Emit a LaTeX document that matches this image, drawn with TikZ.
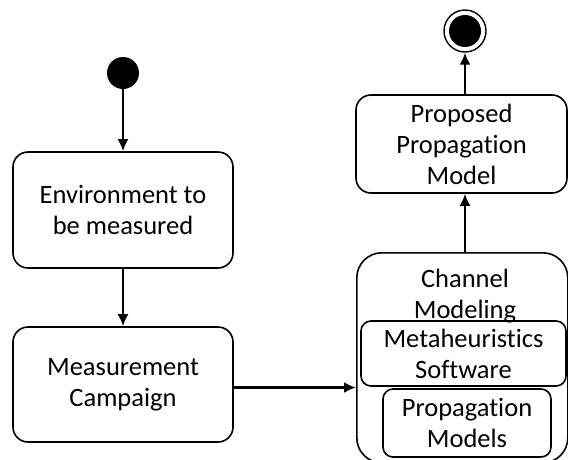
\documentclass[tikz,border=0pt]{standalone}
\usepackage{fontspec}
\setmainfont{Carlito}[Ligatures=NoCommon]
\usetikzlibrary{arrows.meta,positioning}
\tikzset{%
  >={Latex[length=12pt,width=11pt]},
  blk/.style={draw,rectangle,rounded corners=15pt,line width=1.6pt,align=center,
    font=\fontsize{26.5}{31}\selectfont,inner sep=0pt},
  sub/.style={draw,rectangle,rounded corners=10pt,line width=1.6pt,align=center,
    font=\fontsize{26.5}{31}\selectfont,inner sep=0pt},
  dot/.style={circle,fill=black,minimum size=32pt,inner sep=0pt},
  line/.style={draw,line width=2.2pt,->}
}
\begin{document}
\begin{tikzpicture}[x=1pt,y=-1pt]
  \useasboundingbox (0,0) rectangle (568,459);
  % left column
  \node[dot] (start) at (123,73) {};
  \node[blk,minimum width=220pt,minimum height=116pt] (env) at (123,210) {Environment to\\be measured};
  \node[blk,minimum width=220pt,minimum height=115pt] (meas) at (123,384.5) {Measurement\\Campaign};
  % right column
  \node[blk,minimum width=211pt,minimum height=98pt] (prop) at (461.5,144) {Proposed\\Propagation\\Model};
  \node[blk,rounded corners=25pt,minimum width=211pt,minimum height=210pt,anchor=north west] (chan) at (356,252) {};
  \node[anchor=north,align=center,font=\fontsize{26.5}{31}\selectfont,inner sep=0pt] (chlbl) at (465,269) {Channel\\Modeling};
  \node[sub,minimum width=205pt,minimum height=65pt] (meta) at (463.5,353.5) {Metaheuristics\\Software};
  \node[sub,minimum width=168pt,minimum height=68pt] (pmod) at (467,423) {Propagation\\Models};
  \node[circle,draw,line width=1.4pt,minimum size=42pt,inner sep=0pt] (fin) at (465,31) {};
  \node[dot] (findot) at (fin) {};
  % connectors
  \draw[line] (start) -- (env);
  \draw[line] (env) -- (meas);
  \draw[line] ([yshift=-3pt]meas.east) -- ([yshift=-3pt]meas.east -| chan.west);
  \draw[line] (chan.north -| fin) -- (prop.south -| fin);
  \draw[line] (prop.north -| fin) -- (fin);
\end{tikzpicture}
\end{document}
